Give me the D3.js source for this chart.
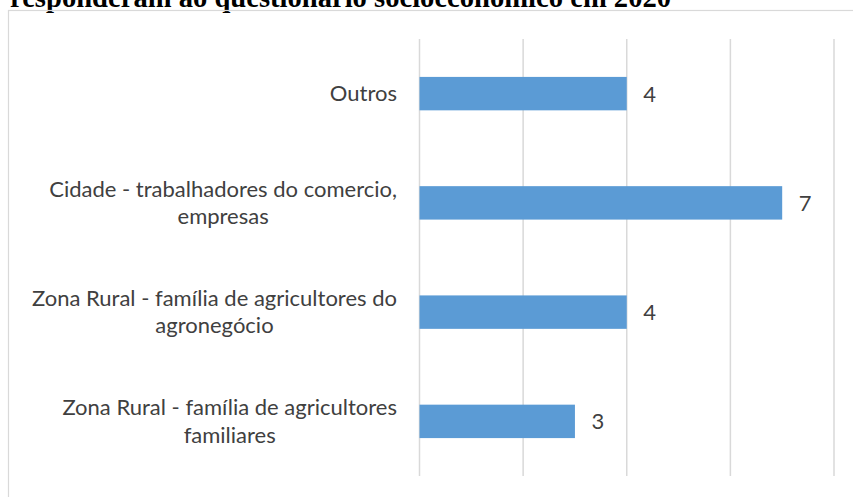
<!DOCTYPE html>
<html>
<head>
<meta charset="utf-8">
<script src="https://cdn.jsdelivr.net/npm/d3@7"></script>
<style>
  html, body { margin: 0; padding: 0; background: #ffffff; overflow: hidden; }
  svg { display: block; }
</style>
</head>
<body>
<svg id="chart" width="853" height="497"></svg>
<script>
// Data: categories listed top to bottom, with their counts
const categories = [
  "Outros",
  "Cidade - trabalhadores do comercio, empresas",
  "Zona Rural - família de agricultores do agronegócio",
  "Zona Rural - família de agricultores familiares"
];
const categoryLines = [
  ["Outros"],
  ["Cidade - trabalhadores do comercio,", "empresas"],
  ["Zona Rural - família de agricultores do", "agronegócio"],
  ["Zona Rural - família de agricultores", "familiares"]
];
const values = [4, 7, 4, 3];
const gridTicks = [0, 2, 4, 6, 8];
const titleText = "responderam ao questionário socioeconômico em 2020";

const svg = d3.select("#chart");
const labelFont = "Lato, 'Open Sans', 'DejaVu Sans', sans-serif";
const textColor = "#404040";

// Title (partly above the top edge of the page)
svg.append("text")
  .attr("x", 10)
  .attr("y", 6.5)
  .attr("font-family", "'Liberation Serif', 'Times New Roman', serif")
  .attr("font-weight", "bold")
  .attr("font-size", 28.6)
  .attr("fill", "#000")
  .text(titleText);

// Chart area frame
svg.append("rect")
  .attr("x", 8.5)
  .attr("y", 10.5)
  .attr("width", 900)
  .attr("height", 600)
  .attr("fill", "none")
  .attr("stroke", "#d9d9d9")
  .attr("stroke-width", 1.2);

const plot = { left: 419.5, right: 834, top: 39, bottom: 476 };

const x = d3.scaleLinear()
  .domain([0, 8])
  .range([plot.left, plot.right]);

const y = d3.scaleBand()
  .domain(categories)
  .range([plot.top, plot.bottom])
  .paddingInner(0.694)
  .paddingOuter(0.347);

// Vertical gridlines
svg.append("g")
  .selectAll("line")
  .data(gridTicks)
  .join("line")
  .attr("x1", d => x(d))
  .attr("x2", d => x(d))
  .attr("y1", plot.top)
  .attr("y2", plot.bottom)
  .attr("stroke", "#d9d9d9")
  .attr("stroke-width", 1.5);

// Bars
svg.append("g")
  .selectAll("rect")
  .data(categories)
  .join("rect")
  .attr("x", x(0))
  .attr("y", d => y(d))
  .attr("width", (d, i) => x(values[i]) - x(0))
  .attr("height", y.bandwidth())
  .attr("fill", "#5b9bd5");

// Value labels
svg.append("g")
  .selectAll("text")
  .data(categories)
  .join("text")
  .attr("x", (d, i) => x(values[i]) + 16.5)
  .attr("y", d => y(d) + y.bandwidth() / 2 + 8)
  .attr("font-family", labelFont)
  .attr("font-size", 22)
  .attr("fill", textColor)
  .text((d, i) => values[i]);

// Category labels: lines centred on each other, block right-aligned to the axis
const labelRight = 397;
const lineGap = 27.7;
categories.forEach((cat, i) => {
  const g = svg.append("g");
  const lines = categoryLines[i];
  const cy = y(cat) + y.bandwidth() / 2;
  const texts = lines.map((ln, j) => g.append("text")
    .attr("y", cy + 7.5 + (j - (lines.length - 1) / 2) * lineGap)
    .attr("font-family", labelFont)
    .attr("font-size", 22)
    .attr("fill", textColor)
    .attr("text-anchor", "middle")
    .text(ln));
  const maxW = d3.max(texts, t => t.node().getComputedTextLength());
  texts.forEach(t => t.attr("x", labelRight - maxW / 2));
});
</script>
</body>
</html>
